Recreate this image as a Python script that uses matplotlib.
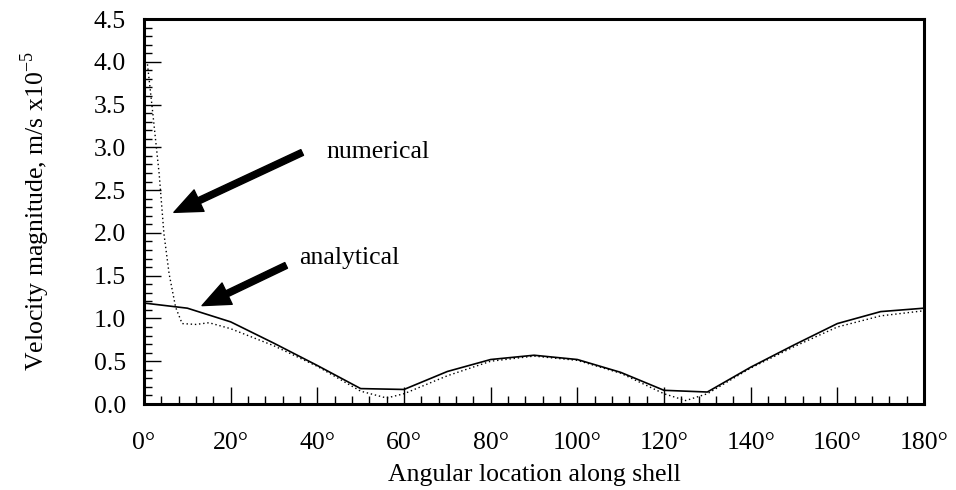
import matplotlib
matplotlib.use("Agg")
import matplotlib.pyplot as plt
from matplotlib.ticker import MultipleLocator

# analytical solution (solid)
ana_deg = [0, 10, 20, 30, 40, 50, 60, 70, 80, 90, 100, 110, 120, 130, 140, 150, 160, 170, 180]
ana_vel = [1.18, 1.12, 0.96, 0.71, 0.45, 0.18, 0.17, 0.38, 0.52, 0.57, 0.52, 0.37, 0.16, 0.14,
           0.43, 0.69, 0.94, 1.08, 1.12]

# numerical solution (dotted)
num_deg = [0.8, 1.9, 3.5, 4.6, 5.8, 7.3, 8.8, 12, 15, 20, 30, 40, 50, 56, 60, 70, 80, 90,
           100, 110, 120, 125, 130, 140, 150, 160, 170, 180]
num_vel = [3.97, 3.46, 2.69, 1.99, 1.52, 1.13, 0.94, 0.93, 0.95, 0.88, 0.68, 0.44, 0.15, 0.07,
           0.12, 0.33, 0.50, 0.56, 0.51, 0.36, 0.12, 0.04, 0.12, 0.42, 0.67, 0.90, 1.03, 1.09]

x_ticks = [0, 20, 40, 60, 80, 100, 120, 140, 160, 180]
x_ticklabels = [f"{t}\u00b0" for t in x_ticks]

plt.rcParams["font.family"] = ["Liberation Serif", "DejaVu Serif"]
FS = 18.5

fig = plt.figure(figsize=(9.56, 4.9), dpi=100)
ax = fig.add_axes([144 / 956, 86 / 490, 780 / 956, 385 / 490])

ax.plot(ana_deg, ana_vel, color="black", linewidth=1.2, linestyle="-")
ax.plot(num_deg, num_vel, color="black", linewidth=1.0, linestyle=(0, (1, 2)))

ax.set_xlim(0, 180)
ax.set_ylim(0, 4.5)
ax.set_xticks(x_ticks)
ax.set_xticklabels(x_ticklabels)
ax.xaxis.set_minor_locator(MultipleLocator(4))
ax.yaxis.set_major_locator(MultipleLocator(0.5))
ax.yaxis.set_minor_locator(MultipleLocator(0.1))
ax.yaxis.set_major_formatter(plt.FuncFormatter(lambda v, p: f"{v:.1f}"))

ax.tick_params(which="both", direction="in", top=False, right=False, color="black",
               labelsize=FS)
ax.tick_params(which="major", length=12, width=1.0)
ax.tick_params(which="minor", length=6, width=1.0)
ax.tick_params(axis="x", pad=20)
ax.tick_params(axis="y", pad=13)
for sp in ax.spines.values():
    sp.set_linewidth(2.2)

ax.set_xlabel("Angular location along shell", fontsize=FS, labelpad=7)
ax.set_ylabel(r"Velocity magnitude, m/s x10$^{\mathregular{-5}}$", fontsize=FS, labelpad=30)

arrow = dict(facecolor="black", edgecolor="black", width=4.5, headwidth=17, headlength=20,
             shrink=0)
ax.annotate("", xy=(6.9, 2.24), xytext=(36.5, 2.94), arrowprops=arrow)
ax.annotate("", xy=(13.4, 1.15), xytext=(32.8, 1.62), arrowprops=arrow)
ax.text(42.0, 2.94, "numerical", fontsize=FS, va="center", ha="left")
ax.text(35.8, 1.71, "analytical", fontsize=FS, va="center", ha="left")

fig.savefig("out.png", dpi=100)
